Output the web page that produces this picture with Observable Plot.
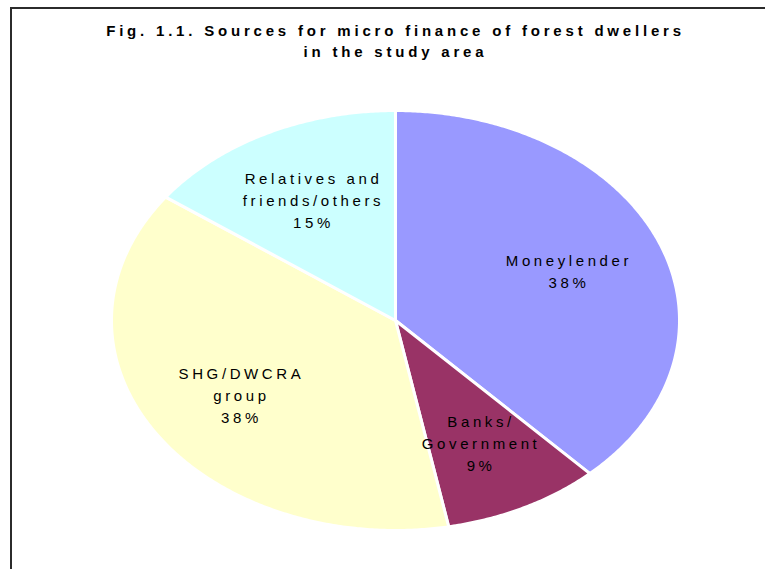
<!DOCTYPE html>
<html>
<head>
<meta charset="utf-8">
<script src="https://cdn.jsdelivr.net/npm/d3@7"></script>
<script src="https://cdn.jsdelivr.net/npm/@observablehq/plot@0.6"></script>
<style>
  html, body { margin: 0; padding: 0; background: #fff; overflow: hidden; }
  #wrap { position: relative; width: 765px; height: 569px; overflow: hidden; }
  #frame { position: absolute; left: 10px; top: 7px; width: 1000px; height: 1000px;
           border-left: 2px solid #2b2b2b; border-top: 2px solid #2b2b2b; pointer-events: none; }
  svg text { letter-spacing: 3.6px; }
  svg g[font-weight="bold"] text { letter-spacing: 3.8px; }
</style>
</head>
<body>
<div id="wrap"><div id="chart"></div><div id="frame"></div></div>
<script>
// ---- data ----
const categories = ["Moneylender", "Banks/Government", "SHG/DWCRA group", "Relatives and friends/others"];
const labelLines = ["Moneylender", "Banks/\nGovernment", "SHG/DWCRA\ngroup", "Relatives and\nfriends/others"];
const shares = [38, 9, 38, 15];
const colors = ["#9999FF", "#993366", "#FFFFCC", "#CCFFFF"];
const titleLines = ["Fig. 1.1. Sources for micro finance of forest dwellers", "in the study area"];

// ---- geometry from d3.pie (angles clockwise from 12 o'clock) ----
const arcs = d3.pie().sort(null).value(d => d)(shares);
const slices = arcs.map((a, i) => {
  const pts = [{x: 0, y: 0}];
  const n = Math.max(8, Math.ceil((a.endAngle - a.startAngle) / (Math.PI / 360)));
  for (let k = 0; k <= n; k++) {
    const t = a.startAngle + (a.endAngle - a.startAngle) * k / n;
    pts.push({x: Math.sin(t), y: Math.cos(t)});
  }
  pts.push({x: 0, y: 0});
  const mid = (a.startAngle + a.endAngle) / 2;
  return {name: categories[i], color: colors[i], pts, mid,
          label: labelLines[i] + "\n" + shares[i] + "%"};
});
const labelR = 0.65;

const marks = slices.map(s =>
  Plot.line(s.pts, {x: "x", y: "y", fill: s.color, stroke: "white", strokeWidth: 3, curve: "linear"})
);
marks.push(Plot.text(slices, {
  x: d => labelR * Math.sin(d.mid),
  y: d => labelR * Math.cos(d.mid),
  text: "label", fontSize: 15, lineHeight: 1.47, fill: "black", dx: 1.8
}));
marks.push(Plot.text([titleLines.join("\n")], {
  x: () => 0, frameAnchor: "top", lineAnchor: "top", dy: 21, dx: 0,
  text: d => d, fontSize: 15, fontWeight: "bold", lineHeight: 1.4, fill: "black"
}));

const chart = Plot.plot({
  width: 765, height: 569,
  marginTop: 0, marginRight: 0, marginBottom: 0, marginLeft: 0,
  style: {fontFamily: "'Liberation Sans', Arial, sans-serif", background: "white"},
  x: {domain: [-1, 1], range: [111, 679], axis: null},
  y: {domain: [-1, 1], range: [530, 110], axis: null},
  marks
});
document.getElementById("chart").appendChild(chart);
</script>
</body>
</html>
